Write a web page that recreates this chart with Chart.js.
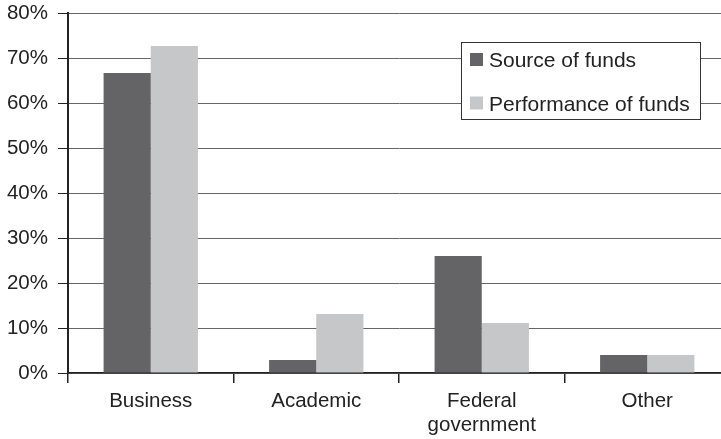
<!DOCTYPE html>
<html><head><meta charset="utf-8">
<script src="https://cdn.jsdelivr.net/npm/chart.js@4/dist/chart.umd.min.js"></script>
<style>html,body{margin:0;padding:0;background:#fff;overflow:hidden}#wrap{width:721px;height:439px;overflow:hidden;position:relative}#c{position:absolute;left:0;top:-9px}</style>
</head><body><div id="wrap"><canvas id="c" width="740" height="448"></canvas></div>
<script>
const categories = ['Business', 'Academic', ['Federal', 'government'], 'Other'];
const seriesNames = ['Source of funds', 'Performance of funds'];
const sourceOfFunds = [66.7, 2.9, 26.0, 4.0];
const performanceOfFunds = [72.7, 13.1, 11.1, 4.0];
const yTicks = [0, 10, 20, 30, 40, 50, 60, 70, 80];
const FONT = '"Liberation Sans", Arial, sans-serif';
const OFFSET = 9;

const legendPlugin = {
  id: 'boxLegend',
  afterDatasetsDraw(chart) {
    const ctx = chart.ctx;
    const x = 461, y = 42 + OFFSET, w = 239, h = 77;
    ctx.save();
    ctx.fillStyle = '#fff';
    ctx.fillRect(x, y, w, h);
    ctx.strokeStyle = '#333';
    ctx.lineWidth = 1;
    ctx.strokeRect(x + 0.5, y + 0.5, w, h);
    ctx.font = '21px ' + FONT;
    ctx.textBaseline = 'alphabetic';
    chart.data.datasets.forEach((ds, i) => {
      const sy = y + 11 + i * 43.5;
      ctx.fillStyle = ds.backgroundColor;
      ctx.fillRect(x + 9, sy, 13, 13);
      ctx.fillStyle = '#222';
      ctx.fillText(ds.label, x + 28, sy + 14);
    });
    ctx.restore();
  }
};

new Chart(document.getElementById('c'), {
  type: 'bar',
  data: {
    labels: categories,
    datasets: [
      { label: seriesNames[0], data: sourceOfFunds, backgroundColor: '#646466' },
      { label: seriesNames[1], data: performanceOfFunds, backgroundColor: '#c6c7c9' }
    ]
  },
  plugins: [legendPlugin],
  options: {
    responsive: false,
    animation: false,
    devicePixelRatio: 1,
    layout: { padding: { top: 0, right: 10, left: 0, bottom: 0 } },
    plugins: { legend: { display: false }, tooltip: { enabled: false } },
    datasets: { bar: { categoryPercentage: 0.57, barPercentage: 1.0 } },
    scales: {
      x: {
        grid: { display: true, drawOnChartArea: false, drawTicks: true, tickLength: 10, color: '#222', lineWidth: 1.5, offset: true },
        border: { display: true, color: '#222', width: 1.5 },
        ticks: { color: '#222', font: { family: FONT, size: 20.5, lineHeight: 1.15 }, padding: 7, maxRotation: 0, autoSkip: false },
        afterFit(scale) { scale.height = 66; }
      },
      y: {
        min: 0, max: 80,
        afterBuildTicks(scale) { scale.ticks = yTicks.map(v => ({ value: v })); },
        grid: { color: '#666', lineWidth: 1, drawTicks: true, tickLength: 10, tickColor: '#222' },
        border: { display: true, color: '#222', width: 2 },
        ticks: { color: '#222', font: { family: FONT, size: 20.5 }, padding: 10, callback: v => v + '%' },
        afterFit(scale) { scale.width = 68; }
      }
    }
  }
});
</script></body></html>
